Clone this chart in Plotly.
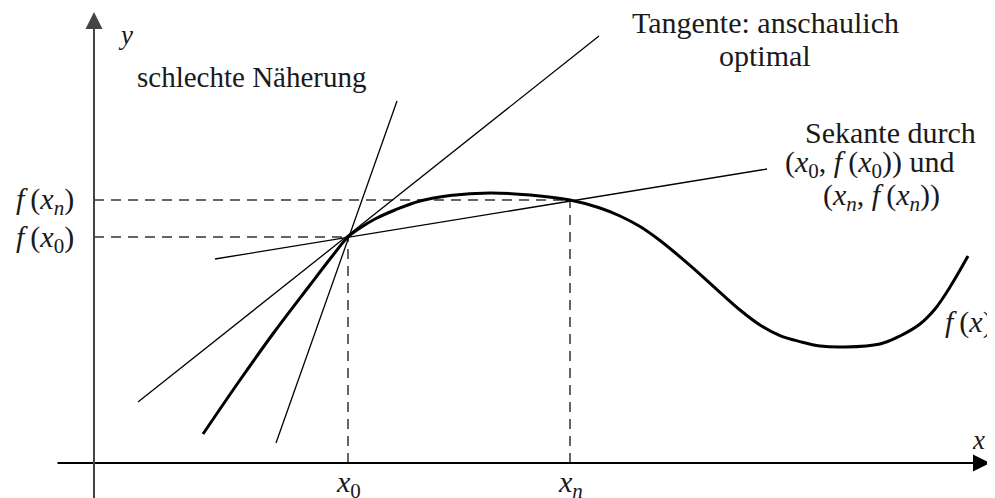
import plotly.graph_objects as go

# coordinates: origin where the axes cross, 1 unit = 1 px
curve_x = [109, 146, 181, 216, 236, 254, 266, 281, 301, 326, 356, 396, 436, 476,
           506, 526, 546, 566, 596, 626, 646, 666, 686, 706, 726, 751, 786, 806,
           826, 841, 856, 874]
curve_y = [29, 83, 132, 178, 204, 226, 235, 244, 253, 262, 267.5, 270, 268, 263,
           255, 247, 236.5, 222.5, 197.6, 170.6, 153, 138, 127.4, 121.4, 117, 116,
           119, 127, 139, 154, 176, 207]

x0, fx0 = 254, 226
xn, fxn = 476, 263

tangent_x = [44, 505]
tangent_y = [61, 427]
steep_x = [182, 303]
steep_y = [20, 362]
secant_x = [121, 673]
secant_y = [204, 294]

FONT = "Liberation Serif"
TS = "\u2009"  # thin space after the italic f

fig = go.Figure()

# ----------------------------------------------------
# helper lines (dashed)
# ----------------------------------------------------

for xs, ys in [([0, x0], [fx0, fx0]), ([0, xn], [fxn, fxn]),
               ([x0, x0], [0, fx0]), ([xn, xn], [0, fxn])]:
    fig.add_trace(go.Scatter(x=xs, y=ys, mode="lines",
                             line=dict(color="#333333", width=1.5, dash="10px,7px")))

# ----------------------------------------------------
# straight lines
# ----------------------------------------------------

for xs, ys in [(tangent_x, tangent_y), (steep_x, steep_y), (secant_x, secant_y)]:
    fig.add_trace(go.Scatter(x=xs, y=ys, mode="lines",
                             line=dict(color="black", width=1.3)))

# ----------------------------------------------------
# f(x)
# ----------------------------------------------------

fig.add_trace(go.Scatter(x=curve_x, y=curve_y, mode="lines",
                         line=dict(color="black", width=3, shape="spline", smoothing=1)))

# ----------------------------------------------------
# axes with arrows
# ----------------------------------------------------

fig.add_annotation(x=896, y=0, ax=-38, ay=0, xref="x", yref="y", axref="x", ayref="y",
                   showarrow=True, arrowhead=2, arrowsize=1.7, arrowwidth=2,
                   arrowcolor="black", text="")
fig.add_annotation(x=0, y=451, ax=0, ay=-43, xref="x", yref="y", axref="x", ayref="y",
                   showarrow=True, arrowhead=2, arrowsize=1.7, arrowwidth=2,
                   arrowcolor="#444444", text="")

# ----------------------------------------------------
# labels
# ----------------------------------------------------

x0_txt = "<i>x</i><sub>0</sub>"
xn_txt = "<i>x<sub>n</sub></i>"
f_txt = "<i>f</i>" + TS

labels = [
    (31, 428, "<i>y</i>", 27, "center"),
    (884, 23, "<i>x</i>", 27, "center"),
    (157, 386, "schlechte Näherung", 29, "center"),
    (671, 441, "Tangente: anschaulich", 30, "center"),
    (671, 408, "optimal", 30, "center"),
    (796, 331, "Sekante durch", 30, "center"),
    (775, 299, "(" + x0_txt + ", " + f_txt + "(" + x0_txt + "))" + " und", 30, "center"),
    (787, 266, "(" + xn_txt + ", " + f_txt + "(" + xn_txt + "))", 30, "center"),
    (-49, 262, f_txt + "(" + xn_txt + ")", 30, "center"),
    (-49, 224, f_txt + "(" + x0_txt + ")", 30, "center"),
    (x0, -21, x0_txt, 30, "center"),
    (xn, -21, xn_txt, 30, "center"),
    (849, 141, f_txt + "(<i>x</i>)", 30, "left"),
]

for lx, ly, txt, size, anchor in labels:
    fig.add_annotation(x=lx, y=ly, text=txt, showarrow=False, xanchor=anchor,
                       yanchor="middle", font=dict(family=FONT, size=size, color="#1a1a1a"))

# the page body adds an 8 px offset, ranges are shifted to compensate
fig.update_layout(
    width=995,
    height=498,
    margin=dict(l=0, r=0, t=0, b=0),
    paper_bgcolor="white",
    plot_bgcolor="white",
    showlegend=False,
    xaxis=dict(range=[-86, 909], visible=False, fixedrange=True),
    yaxis=dict(range=[-43, 455], visible=False, fixedrange=True),
)

fig.write_html("out.html")
